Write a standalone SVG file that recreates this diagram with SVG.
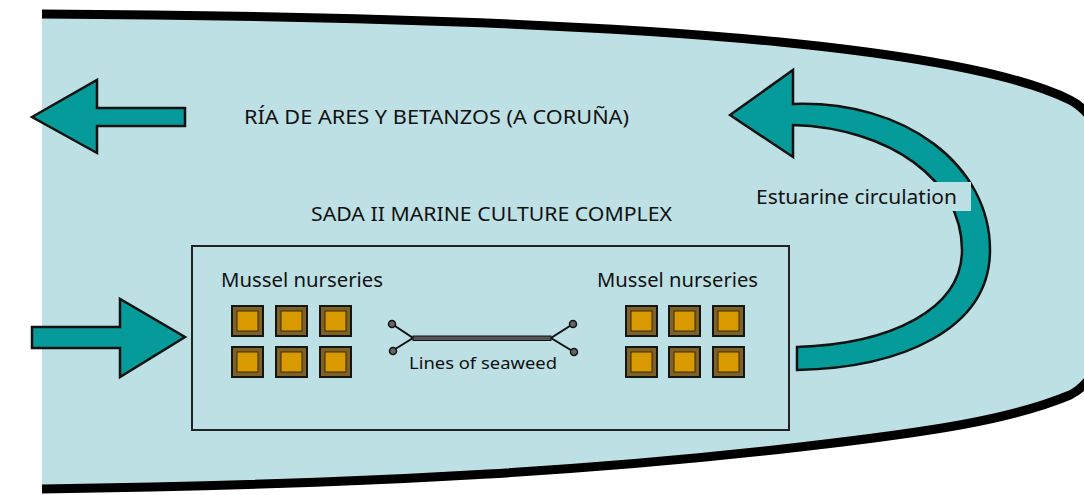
<svg xmlns="http://www.w3.org/2000/svg" width="1084" height="495" viewBox="0 0 1084 495">
<defs>
<style>
text{font-family:"Noto Sans","Open Sans","Liberation Sans",sans-serif;fill:#111}
.t20{font-size:20px}
.t16{font-size:16px}
.arrow{fill:#069b9b;stroke:#111;stroke-width:2.5;stroke-linejoin:miter}
.sq{fill:#7d6125;stroke:#151515;stroke-width:2}
.sqi{fill:#d99a00;stroke:#3a2a0a;stroke-width:1}
.knob{fill:#666;stroke:#111;stroke-width:1.5}
</style>
<g id="mussel">
<rect class="sq" x="0" y="0" width="31" height="30"/>
<rect class="sqi" x="5" y="5" width="21" height="20"/>
</g>
</defs>
<rect width="1084" height="495" fill="#ffffff"/>
<g id="estuary">
<path d="M42,14 C400,16 620,26 780,42 C920,56 1020,75 1070,100 C1140,135 1140,360 1070,395 C1010,420 930,432 800,447 C620,468 400,484 42,489" fill="#bde0e4" stroke="#000" stroke-width="9"/>
<text class="t20" x="244" y="124" textLength="385" lengthAdjust="spacingAndGlyphs">RÍA DE ARES Y BETANZOS (A CORUÑA)</text>
</g>
<g id="connectors">
<path id="outflow" class="arrow" d="M32,117 L97,80 L97,108 L185,108 L185,126 L97,126 L97,153 Z"/>
<path id="inflow" class="arrow" d="M32,327 L120,327 L120,299 L185,337 L120,377 L120,348 L32,348 Z"/>
<path id="circulation" class="arrow" d="M730,115 L793,70 L793,104 C905,100 990,165 990,250 C990,330 900,368 797,370 L797,347 C890,344 962,310 962,250 C962,180 890,128 793,125 L793,157 Z"/>
</g>
<g id="circulation-label">
<rect x="748" y="182" width="223" height="29" fill="#bde0e4"/>
<text class="t20" x="756" y="204" textLength="201" lengthAdjust="spacingAndGlyphs">Estuarine circulation</text>
</g>
<g id="complex">
<text class="t20" x="311" y="221" textLength="361" lengthAdjust="spacingAndGlyphs">SADA II MARINE CULTURE COMPLEX</text>
<rect x="192" y="246" width="597" height="184" fill="none" stroke="#222" stroke-width="2"/>
</g>
<g id="nurseries-left">
<text class="t20" x="221" y="287" textLength="162" lengthAdjust="spacingAndGlyphs">Mussel nurseries</text>
<use href="#mussel" x="232" y="306"/>
<use href="#mussel" x="276" y="306"/>
<use href="#mussel" x="320" y="306"/>
<use href="#mussel" x="232" y="347"/>
<use href="#mussel" x="276" y="347"/>
<use href="#mussel" x="320" y="347"/>
</g>
<g id="nurseries-right">
<text class="t20" x="597" y="287" textLength="161" lengthAdjust="spacingAndGlyphs">Mussel nurseries</text>
<use href="#mussel" x="626" y="306"/>
<use href="#mussel" x="669" y="306"/>
<use href="#mussel" x="713" y="306"/>
<use href="#mussel" x="626" y="347"/>
<use href="#mussel" x="669" y="347"/>
<use href="#mussel" x="713" y="347"/>
</g>
<g id="seaweed">
<path d="M392,324 L413,338 L392,351 M573,324 L551,338 L574,352" fill="none" stroke="#111" stroke-width="2"/>
<rect x="413" y="336" width="138" height="4.5" fill="#555" stroke="#111" stroke-width="1"/>
<circle class="knob" cx="392" cy="324" r="3.5"/>
<circle class="knob" cx="393" cy="351" r="3.5"/>
<circle class="knob" cx="573" cy="324" r="3.5"/>
<circle class="knob" cx="574" cy="352" r="3.5"/>
<text class="t16" x="409" y="369" textLength="148" lengthAdjust="spacingAndGlyphs">Lines of seaweed</text>
</g>
</svg>
